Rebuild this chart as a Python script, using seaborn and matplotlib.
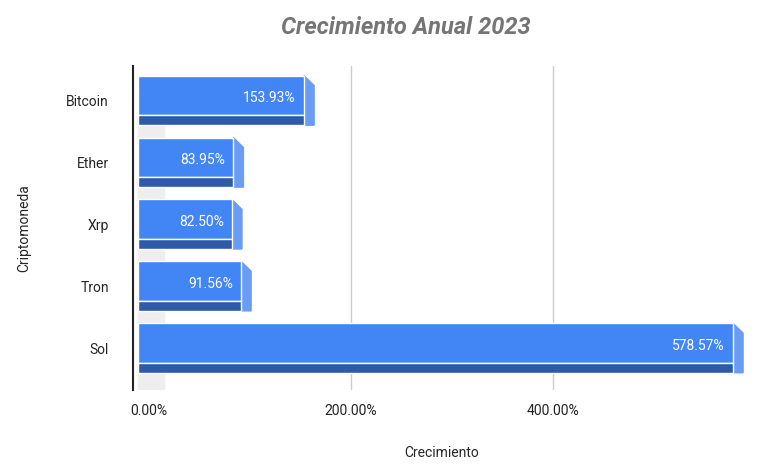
import matplotlib
matplotlib.use("Agg")
import matplotlib.pyplot as plt
import seaborn as sns
import pandas as pd

categories = ["Bitcoin", "Ether", "Xrp", "Tron", "Sol"]
values = [153.93, 83.95, 82.50, 91.56, 578.57]
labels = ["153.93%", "83.95%", "82.50%", "91.56%", "578.57%"]

sns.set_style("white")
plt.rcParams['font.family'] = ['Roboto', 'DejaVu Sans']
df = pd.DataFrame({"Criptomoneda": categories, "Crecimiento": values})

fig = plt.figure(figsize=(7.8, 4.7), dpi=100)
ax = fig.add_axes([0.171, 0.17, 0.79, 0.69])
ax.axvspan(-15, 0, color="#eeeeee", zorder=0)
for xv in [200, 400]:
    ax.axvline(xv, color="#cccccc", lw=1, zorder=0)

sns.barplot(data=df, y="Criptomoneda", x="Crecimiento", orient="h",
            color="#4285F4", saturation=1, width=0.64, ax=ax, zorder=3)
for p in ax.patches:
    p.set_x(-10)
    p.set_width(p.get_width() + 10)
    p.set_y(p.get_y() - 0.08)
# dark bottom strip and side
for i, v in enumerate(values):
    ax.barh(i + 0.32, v + 10, left=-10, height=0.16, color="#2f5aa8", zorder=3)
    ax.fill([v, v + 10, v + 10, v], [i - 0.4, i - 0.24, i + 0.4, i + 0.4],
            color="#6a9cf4", zorder=2)
    ax.text(v - 8, i - 0.04, labels[i], color="white", ha="right", va="center",
            fontsize=10, zorder=4)

ax.set_xlim(-15, 595)
ax.set_ylim(4.68, -0.56)
ax.set_xticks([0, 200, 400])
ax.set_xticklabels(["0.00%", "200.00%", "400.00%"], fontsize=10, color="#222222")
ax.tick_params(axis="y", length=14, width=1.5, color="#222222", labelsize=10)
ax.tick_params(axis="x", length=0, pad=10)
for s in ["top", "right", "bottom"]:
    ax.spines[s].set_visible(False)
ax.spines["left"].set_color("#222222")
ax.spines["left"].set_linewidth(1.5)
ax.set_xlabel("Crecimiento", fontsize=10, labelpad=20)
ax.set_ylabel("Criptomoneda", fontsize=10, labelpad=25)
fig.suptitle("Crecimiento Anual 2023", x=0.52, y=0.965, fontsize=17,
             fontweight="bold", fontstyle="italic", color="#757575")
fig.savefig("out.png", dpi=100)
